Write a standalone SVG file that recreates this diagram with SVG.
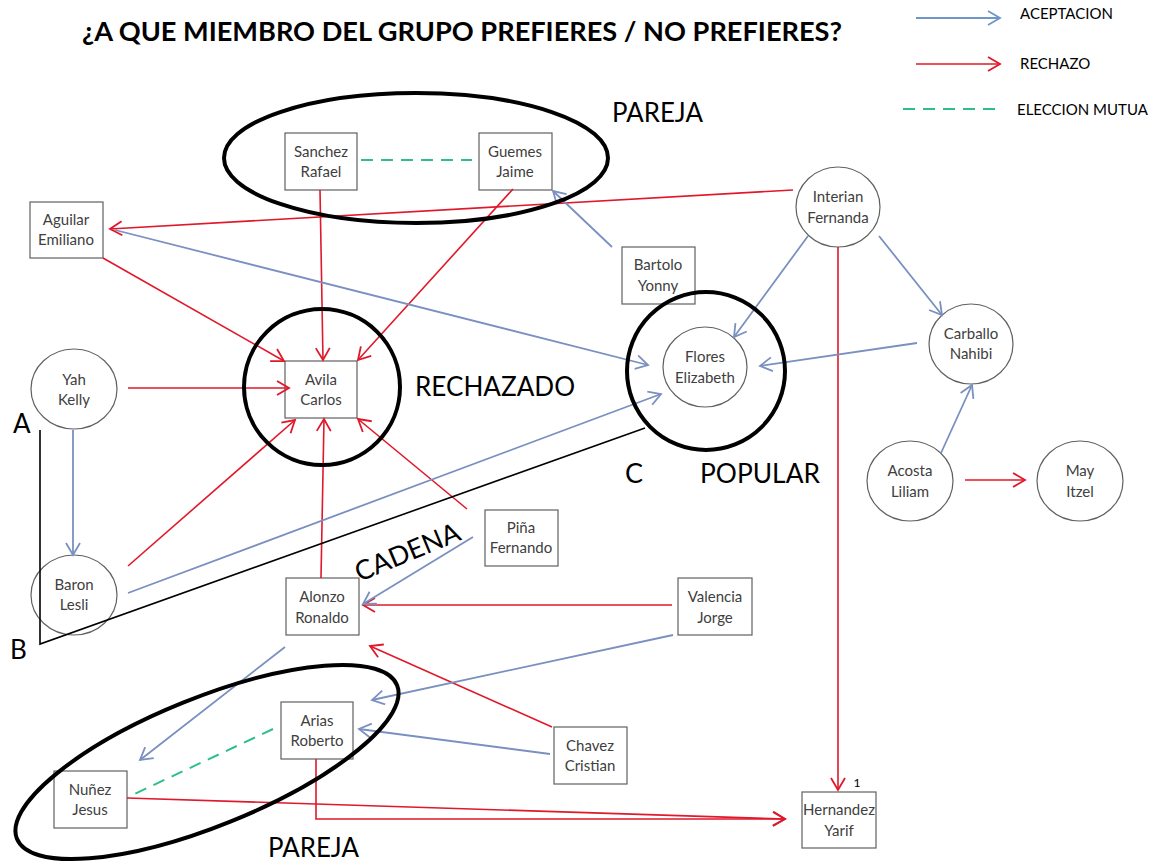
<svg xmlns="http://www.w3.org/2000/svg" width="1157" height="863" viewBox="0 0 1157 863">
<style>
.t{font-family:Lato,"Open Sans","Liberation Sans",sans-serif;fill:#404040;font-size:15px;text-anchor:middle;dominant-baseline:central}
.big{font-family:Lato,"Open Sans","Liberation Sans",sans-serif;fill:#000;font-size:27px}
.leg{font-family:Lato,"Open Sans","Liberation Sans",sans-serif;fill:#000;font-size:15px;dominant-baseline:central}
.box{fill:#fff;stroke:#606060;stroke-width:1.2}
.circ{fill:#fff;stroke:#606060;stroke-width:1.2}
.red{stroke:#e0182a;stroke-width:1.6;fill:none;marker-end:url(#mr)}
.blue{stroke:#7a90c0;stroke-width:1.8;fill:none;marker-end:url(#mb)}
.mut{stroke:#2ebf88;stroke-width:2;fill:none;stroke-dasharray:12 8}
.ann{fill:none;stroke:#000;stroke-width:4}
.chain{fill:none;stroke:#000;stroke-width:1.6}
</style>
<defs>
<marker id="mr" markerUnits="userSpaceOnUse" markerWidth="16" markerHeight="16" refX="13" refY="8" orient="auto">
<path d="M1,1 L13,8 L1,15" fill="none" stroke="#e0182a" stroke-width="1.8"/>
</marker>
<marker id="mb" markerUnits="userSpaceOnUse" markerWidth="16" markerHeight="16" refX="13" refY="8" orient="auto">
<path d="M1,1 L13,8 L1,15" fill="none" stroke="#7a90c0" stroke-width="1.8"/>
</marker>
<marker id="mlb" markerUnits="userSpaceOnUse" markerWidth="16" markerHeight="16" refX="13" refY="8" orient="auto">
<path d="M1,1 L13,8 L1,15" fill="none" stroke="#6e96c8" stroke-width="1.8"/>
</marker>
</defs>
<rect width="1157" height="863" fill="#fff"/>

<text x="82" y="41" textLength="760" lengthAdjust="spacingAndGlyphs" style="font-family:Lato,'Open Sans','Liberation Sans',sans-serif;font-weight:bold;font-size:27px;fill:#000">¿A QUE MIEMBRO DEL GRUPO PREFIERES / NO PREFIERES?</text>

<g id="legend">
<line x1="916" y1="18" x2="1000" y2="18" stroke="#6e96c8" stroke-width="1.8" marker-end="url(#mlb)"/>
<text class="leg" x="1020" y="13">ACEPTACION</text>
<line x1="916" y1="64" x2="1000" y2="64" class="red"/>
<text class="leg" x="1020" y="63">RECHAZO</text>
<line x1="903" y1="109" x2="1000" y2="109" class="mut"/>
<text class="leg" x="1017" y="109">ELECCION MUTUA</text>
</g>

<g id="nodes">
<g id="sanchez"><rect class="box" x="285" y="133" width="72" height="57"/><text class="t" x="321" y="151">Sanchez</text><text class="t" x="321" y="171">Rafael</text></g>
<g id="guemes"><rect class="box" x="479" y="133" width="73" height="57"/><text class="t" x="515" y="151">Guemes</text><text class="t" x="515" y="171">Jaime</text></g>
<g id="aguilar"><rect class="box" x="30" y="202" width="73" height="56"/><text class="t" x="66" y="219">Aguilar</text><text class="t" x="66" y="239">Emiliano</text></g>
<g id="avila"><rect class="box" x="285" y="361" width="72" height="57"/><text class="t" x="321" y="379">Avila</text><text class="t" x="321" y="399">Carlos</text></g>
<g id="bartolo"><rect class="box" x="622" y="247" width="73" height="57"/><text class="t" x="658" y="264">Bartolo</text><text class="t" x="658" y="285">Yonny</text></g>
<g id="interian"><ellipse class="circ" cx="838" cy="207" rx="42" ry="40"/><text class="t" x="838" y="196">Interian</text><text class="t" x="838" y="217">Fernanda</text></g>
<g id="flores"><ellipse class="circ" cx="705" cy="367" rx="42" ry="40"/><text class="t" x="705" y="356">Flores</text><text class="t" x="705" y="377">Elizabeth</text></g>
<g id="carballo"><ellipse class="circ" cx="971" cy="344" rx="42" ry="40"/><text class="t" x="971" y="333">Carballo</text><text class="t" x="971" y="353">Nahibi</text></g>
<g id="yah"><ellipse class="circ" cx="74" cy="389" rx="43" ry="40"/><text class="t" x="74" y="379">Yah</text><text class="t" x="74" y="399">Kelly</text></g>
<g id="baron"><ellipse class="circ" cx="74" cy="595" rx="43" ry="40"/><text class="t" x="74" y="584">Baron</text><text class="t" x="74" y="604">Lesli</text></g>
<g id="acosta"><ellipse class="circ" cx="910" cy="481" rx="43" ry="40"/><text class="t" x="910" y="470">Acosta</text><text class="t" x="910" y="491">Liliam</text></g>
<g id="may"><ellipse class="circ" cx="1080" cy="481" rx="43" ry="40"/><text class="t" x="1080" y="470">May</text><text class="t" x="1080" y="491">Itzel</text></g>
<g id="pina"><rect class="box" x="485" y="510" width="73" height="56"/><text class="t" x="521" y="527">Piña</text><text class="t" x="521" y="547">Fernando</text></g>
<g id="alonzo"><rect class="box" x="286" y="578" width="73" height="57"/><text class="t" x="322" y="596">Alonzo</text><text class="t" x="322" y="617">Ronaldo</text></g>
<g id="valencia"><rect class="box" x="678" y="578" width="74" height="57"/><text class="t" x="715" y="596">Valencia</text><text class="t" x="715" y="617">Jorge</text></g>
<g id="arias"><rect class="box" x="281" y="702" width="72" height="57"/><text class="t" x="317" y="720">Arias</text><text class="t" x="317" y="740">Roberto</text></g>
<g id="chavez"><rect class="box" x="554" y="727" width="73" height="57"/><text class="t" x="590" y="745">Chavez</text><text class="t" x="590" y="765">Cristian</text></g>
<g id="nunez"><rect class="box" x="54" y="771" width="73" height="57"/><text class="t" x="90" y="789">Nuñez</text><text class="t" x="90" y="809">Jesus</text></g>
<g id="hernandez"><rect class="box" x="802" y="792" width="74" height="56"/><text class="t" x="839" y="809">Hernandez</text><text class="t" x="839" y="830">Yarif</text><text x="857" y="782" style="font-family:Lato,'Liberation Sans',sans-serif;font-size:12px;fill:#000;text-anchor:middle;dominant-baseline:central">1</text></g>
</g>

<g id="connectors">
<line class="mut" x1="361" y1="160" x2="472" y2="160"/>
<line class="mut" x1="273" y1="729" x2="128" y2="797"/>
<line class="red" x1="103" y1="258" x2="284" y2="361"/>
<line class="red" x1="320" y1="190" x2="323" y2="360"/>
<line class="red" x1="513" y1="189" x2="358" y2="360"/>
<line class="red" x1="128" y1="388" x2="289" y2="388"/>
<line class="red" x1="128" y1="566" x2="295" y2="420"/>
<line class="red" x1="321" y1="578" x2="324" y2="419"/>
<line class="red" x1="467" y1="509" x2="358" y2="419"/>
<line class="red" x1="793" y1="190" x2="110" y2="229"/>
<line class="red" x1="672" y1="605" x2="363" y2="605"/>
<line class="red" x1="552" y1="727" x2="370" y2="646"/>
<line class="red" x1="838" y1="247" x2="838" y2="790"/>
<line class="red" x1="965" y1="480" x2="1025" y2="480"/>
<line class="red" x1="127" y1="798" x2="785" y2="819"/>
<path class="red" d="M316,759 V819 H785"/>
<line class="blue" x1="115" y1="230" x2="648" y2="365"/>
<line class="blue" x1="612" y1="247" x2="553" y2="191"/>
<line class="blue" x1="808" y1="236" x2="734" y2="337"/>
<line class="blue" x1="917" y1="343" x2="760" y2="366"/>
<line class="blue" x1="879" y1="236" x2="942" y2="315"/>
<line class="blue" x1="941" y1="453" x2="972" y2="385"/>
<line class="blue" x1="73" y1="430" x2="73" y2="555"/>
<line class="blue" x1="128" y1="593" x2="661" y2="394"/>
<line class="blue" x1="473" y1="537" x2="363" y2="604"/>
<line class="blue" x1="285" y1="647" x2="140" y2="760"/>
<line class="blue" x1="673" y1="635" x2="372" y2="700"/>
<line class="blue" x1="550" y1="754" x2="359" y2="729"/>
</g>

<g id="annotations">
<ellipse class="ann" cx="416" cy="158" rx="192" ry="65"/>
<circle class="ann" cx="322" cy="387" r="78"/>
<circle class="ann" cx="706" cy="371" r="79"/>
<ellipse class="ann" cx="207" cy="762" rx="205" ry="64" transform="rotate(-22 207 762)"/>
<path class="chain" d="M40,430 V644 L645,428"/>
<text class="big" x="612" y="122" textLength="91" lengthAdjust="spacingAndGlyphs">PAREJA</text>
<text class="big" x="268" y="857" textLength="91" lengthAdjust="spacingAndGlyphs">PAREJA</text>
<text class="big" x="415" y="396" textLength="160" lengthAdjust="spacingAndGlyphs">RECHAZADO</text>
<text class="big" x="700" y="483" textLength="120" lengthAdjust="spacingAndGlyphs">POPULAR</text>
<text class="big" x="625" y="483">C</text>
<text class="big" x="13" y="433" style="font-size:26px">A</text>
<text class="big" x="10" y="659" style="font-size:26px">B</text>
<text class="big" x="407" y="551" text-anchor="middle" dominant-baseline="central" transform="rotate(-22.5 407 551)">CADENA</text>
</g>
</svg>
